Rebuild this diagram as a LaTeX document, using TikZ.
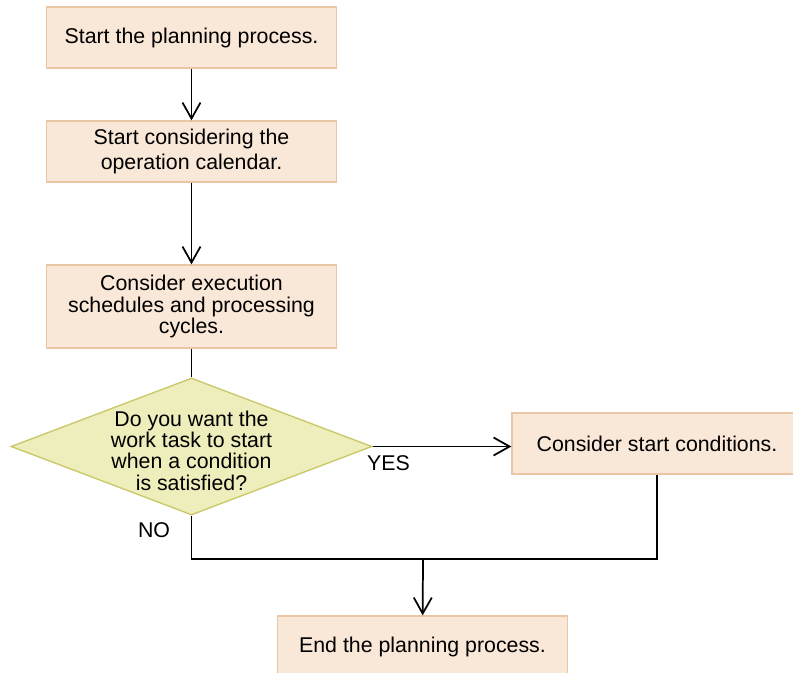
\documentclass[tikz,border=0pt]{standalone}
\usepackage{fontspec}
\setmainfont{Liberation Sans}
\usetikzlibrary{arrows.meta,shapes.geometric}
\definecolor{boxfill}{RGB}{249,231,216}
\definecolor{boxline}{RGB}{234,198,164}
\definecolor{askfill}{RGB}{238,238,188}
\definecolor{askline}{RGB}{200,200,104}

\begin{document}
\begin{tikzpicture}[x=0.75pt, y=-0.75pt, line width=1.3pt,
  >={Straight Barb[length=12pt,width=13.5pt]},
  every node/.style={font=\fontsize{16}{16}\selectfont},
  stepbox/.style={draw=boxline, fill=boxfill, line width=1pt, minimum width=217.5pt,
    minimum height=45.75pt, align=center, inner sep=2pt},
  askbox/.style={diamond, draw=askline, fill=askfill, line width=1pt,
    minimum width=270.75pt, minimum height=102.75pt, inner sep=0pt}]
  \useasboundingbox (0,0) rectangle (793,673);
  % left column
  \node[stepbox] (start) at (191.5,37.5) {Start the planning process.};
  \node[stepbox] (calendar) at (191.5,151.5) {Start considering the\\[3pt] operation calendar.};
  \node[stepbox, minimum height=62.25pt] (cycles) at (191.5,306.5)
    {Consider execution\\ schedules and processing\\ cycles.};
  \node[askbox, label={[align=center, yshift=-3pt]center:{Do you want the\\ work task to start\\
    when a condition\\ is satisfied?}}] (ask) at (191.5,446.5) {};
  % right branch and end
  \node[stepbox] (conditions) at (657,443.5) {Consider start conditions.};
  \node[stepbox] (finish) at (422.5,646.5) {End the planning process.};
  \coordinate (merge) at (423,559);
  % connectors
  \draw[->] (start) -- (calendar);
  \draw[->] (calendar) -- (cycles);
  \draw (cycles) -- (ask);
  \draw[->] (ask.east) -- (ask.east -| conditions.west);
  \draw (ask.south) |- (merge) -| (conditions.south);
  \draw[->] (merge) -- (finish);
  \node (yes) at (388.5,463) {YES};
  \node (no) at (154,530) {NO};
\end{tikzpicture}
\end{document}
